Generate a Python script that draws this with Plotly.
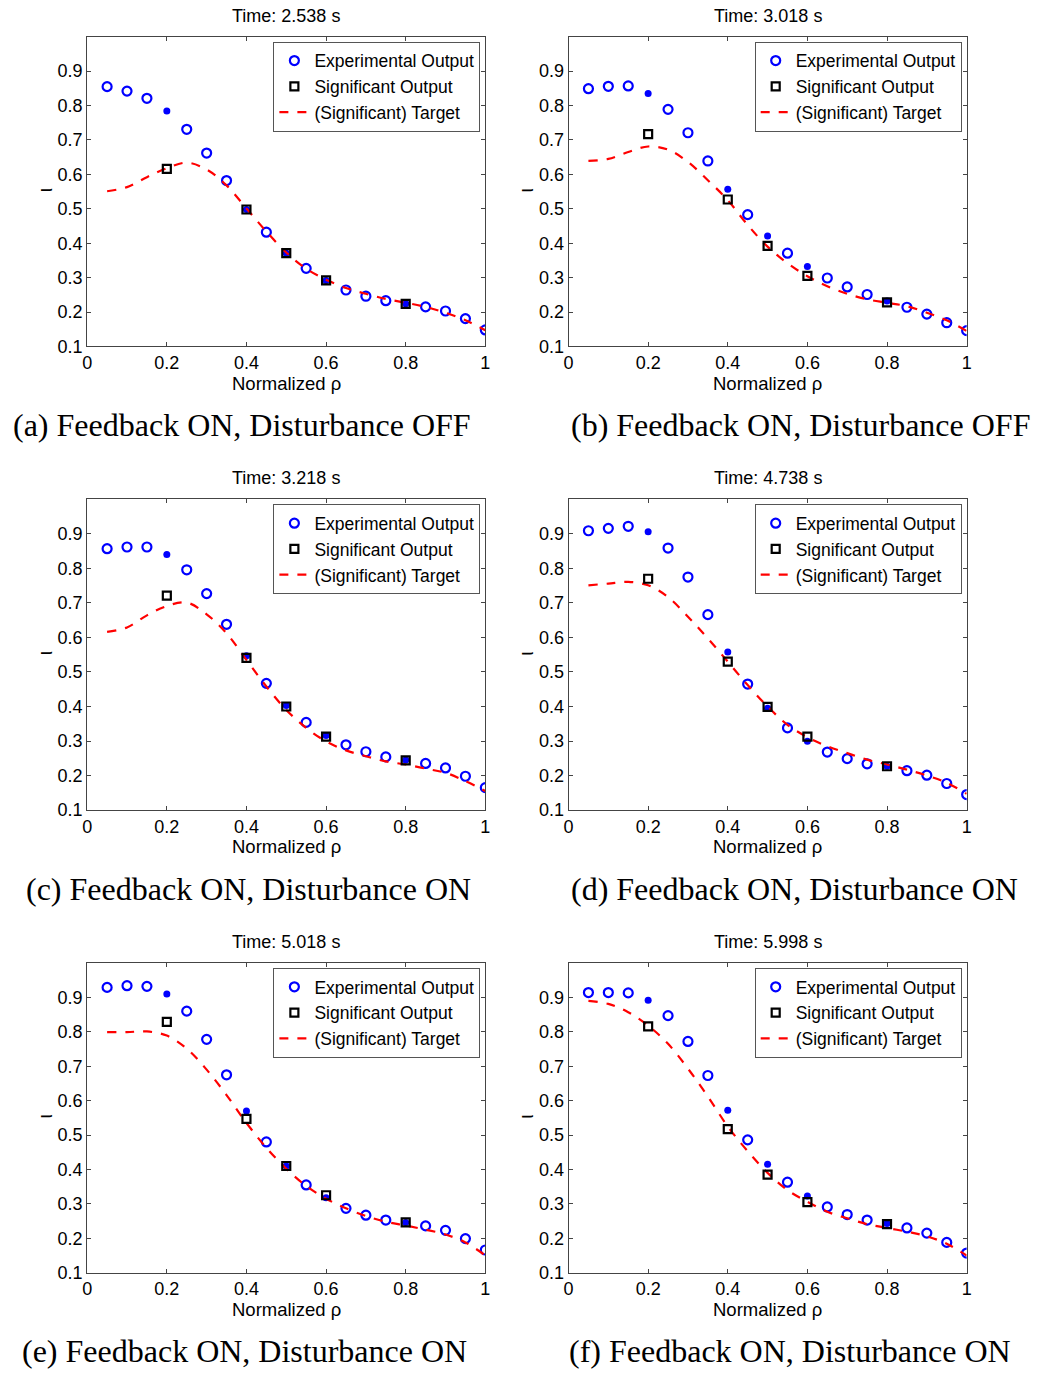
import plotly.graph_objects as go

# ---------------- data ----------------
rho_exp = [0.05, 0.10, 0.15, 0.20, 0.25, 0.30, 0.35, 0.40, 0.45, 0.50,
           0.55, 0.60, 0.65, 0.70, 0.75, 0.80, 0.85, 0.90, 0.95, 1.00]
rho_sig = [0.2, 0.4, 0.5, 0.6, 0.8]

times = ["2.538", "3.018", "3.218", "4.738", "5.018", "5.998"]
captions = ["(a) Feedback ON, Disturbance OFF", "(b) Feedback ON, Disturbance OFF",
            "(c) Feedback ON, Disturbance ON", "(d) Feedback ON, Disturbance ON",
            "(e) Feedback ON, Disturbance ON", "(f) Feedback ON, Disturbance ON"]

exp_a = [0.855, 0.842, 0.821, 0.784, 0.731, 0.662, 0.582, 0.498, 0.432, 0.371,
         0.327, 0.292, 0.264, 0.246, 0.233, 0.224, 0.215, 0.203, 0.181, 0.148]
sig_a = [0.616, 0.498, 0.371, 0.292, 0.224]
tgt_a = [0.551, 0.563, 0.592, 0.618, 0.634, 0.614, 0.568, 0.501, 0.434, 0.373,
         0.326, 0.294, 0.270, 0.253, 0.238, 0.227, 0.215, 0.198, 0.176, 0.147]

exp_b = [0.849, 0.856, 0.857, 0.835, 0.789, 0.721, 0.639, 0.557, 0.483, 0.421,
         0.371, 0.332, 0.299, 0.273, 0.251, 0.232, 0.214, 0.194, 0.169, 0.146]
sig_b = [0.717, 0.527, 0.392, 0.305, 0.228]
tgt_b = [0.639, 0.645, 0.665, 0.681, 0.672, 0.636, 0.583, 0.525, 0.453, 0.390,
         0.342, 0.304, 0.275, 0.253, 0.237, 0.227, 0.217, 0.198, 0.176, 0.145]

exp_c = [0.857, 0.862, 0.862, 0.840, 0.796, 0.727, 0.638, 0.547, 0.467, 0.403,
         0.354, 0.316, 0.289, 0.269, 0.254, 0.245, 0.235, 0.222, 0.198, 0.165]
sig_c = [0.721, 0.541, 0.400, 0.313, 0.244]
tgt_c = [0.616, 0.629, 0.664, 0.691, 0.701, 0.667, 0.612, 0.535, 0.458, 0.390,
         0.338, 0.299, 0.273, 0.256, 0.241, 0.232, 0.220, 0.208, 0.184, 0.155]

exp_d = [0.909, 0.916, 0.922, 0.906, 0.859, 0.775, 0.666, 0.558, 0.465, 0.395,
         0.338, 0.299, 0.268, 0.249, 0.234, 0.227, 0.214, 0.201, 0.177, 0.145]
sig_d = [0.770, 0.530, 0.399, 0.313, 0.227]
tgt_d = [0.751, 0.756, 0.761, 0.751, 0.717, 0.660, 0.597, 0.530, 0.462, 0.400,
         0.347, 0.311, 0.285, 0.265, 0.246, 0.232, 0.217, 0.200, 0.179, 0.147]

exp_e = [0.929, 0.934, 0.932, 0.910, 0.860, 0.778, 0.675, 0.570, 0.480, 0.410,
         0.355, 0.318, 0.287, 0.267, 0.253, 0.246, 0.236, 0.223, 0.199, 0.166]
sig_e = [0.829, 0.547, 0.410, 0.325, 0.246]
tgt_e = [0.799, 0.799, 0.801, 0.789, 0.751, 0.690, 0.616, 0.535, 0.463, 0.402,
         0.352, 0.315, 0.287, 0.265, 0.248, 0.237, 0.225, 0.211, 0.188, 0.150]

exp_f = [0.914, 0.914, 0.913, 0.892, 0.847, 0.772, 0.673, 0.572, 0.486, 0.415,
         0.363, 0.323, 0.291, 0.269, 0.253, 0.243, 0.230, 0.215, 0.188, 0.157]
sig_f = [0.816, 0.517, 0.385, 0.305, 0.241]
tgt_f = [0.890, 0.881, 0.857, 0.818, 0.765, 0.693, 0.612, 0.525, 0.453, 0.390,
         0.340, 0.306, 0.277, 0.258, 0.241, 0.230, 0.219, 0.206, 0.184, 0.150]

x_ticks = [0, 0.2, 0.4, 0.6, 0.8, 1.0]
x_ticktext = ["0", "0.2", "0.4", "0.6", "0.8", "1"]
y_ticks = [0.1, 0.2, 0.3, 0.4, 0.5, 0.6, 0.7, 0.8, 0.9]
y_ticktext = ["0.1", "0.2", "0.3", "0.4", "0.5", "0.6", "0.7", "0.8", "0.9"]

exps = [exp_a, exp_b, exp_c, exp_d, exp_e, exp_f]
sigs = [sig_a, sig_b, sig_c, sig_d, sig_e, sig_f]
tgts = [tgt_a, tgt_b, tgt_c, tgt_d, tgt_e, tgt_f]

# ---------------- layout geometry ----------------
W, H = 1038, 1377
col_px = [(83, 485), (569, 971)]
row_px = [(37, 349), (503, 816), (970, 1282)]
cap_y_px = [428, 895, 1361]
cap_x_px = [239, 803, 246, 797, 242, 793]

SANS = "Liberation Sans, Arial, sans-serif"
SERIF = "Liberation Serif, Times New Roman, serif"

fig = go.Figure()
annotations = []
layout_upd = {}

for i in range(6):
    r, c = divmod(i, 2)
    ax = "" if i == 0 else str(i + 1)
    lg = "legend" if i == 0 else f"legend{i + 1}"
    x0, x1 = col_px[c]
    yt, yb = row_px[r]
    xdom = [x0 / W, x1 / W]
    ydom = [1 - yb / H, 1 - yt / H]

    exp = exps[i]
    open_x = [x for x in rho_exp if round(x, 2) not in rho_sig]
    open_y = [y for x, y in zip(rho_exp, exp) if round(x, 2) not in rho_sig]
    fill_x = [x for x in rho_exp if round(x, 2) in rho_sig]
    fill_y = [y for x, y in zip(rho_exp, exp) if round(x, 2) in rho_sig]

    fig.add_trace(go.Scatter(
        x=open_x, y=open_y, mode="markers", name="Experimental Output",
        marker=dict(symbol="circle-open", size=9, color="#0000ff", line=dict(width=2.2, color="#0000ff")),
        xaxis="x" + ax, yaxis="y" + ax, legend=lg, legendrank=1))
    fig.add_trace(go.Scatter(
        x=fill_x, y=fill_y, mode="markers", showlegend=False,
        marker=dict(symbol="circle", size=7, color="#0000ff"),
        xaxis="x" + ax, yaxis="y" + ax, legend=lg))
    fig.add_trace(go.Scatter(
        x=rho_exp, y=tgts[i], mode="lines", name="(Significant) Target",
        line=dict(color="#ff0000", width=2.2, dash="dash", shape="spline"),
        xaxis="x" + ax, yaxis="y" + ax, legend=lg, legendrank=3))
    fig.add_trace(go.Scatter(
        x=rho_sig, y=sigs[i], mode="markers", name="Significant Output",
        marker=dict(symbol="square-open", size=8, color="#000000", line=dict(width=2.2, color="#000000")),
        xaxis="x" + ax, yaxis="y" + ax, legend=lg, legendrank=2))

    axis_common = dict(showline=True, linecolor="#444444", linewidth=1, mirror="ticks",
                       ticks="inside", ticklen=4, tickcolor="#444444", showgrid=False,
                       zeroline=False, tickfont=dict(family=SANS, size=18, color="#000000"))
    layout_upd["xaxis" + ax] = dict(domain=xdom, range=[0, 1], tickvals=x_ticks, ticktext=x_ticktext,
                                    anchor="y" + ax, ticklabelstandoff=0, **axis_common)
    layout_upd["yaxis" + ax] = dict(domain=ydom, range=[0.1, 1.0], tickvals=y_ticks, ticktext=y_ticktext,
                                    anchor="x" + ax, ticklabelstandoff=0, **axis_common)
    layout_upd[lg] = dict(x=(x1 - 5) / W, xanchor="right", y=1 - (yt + 5) / H, yanchor="top",
                          bgcolor="white", bordercolor="#555555", borderwidth=1,
                          font=dict(family=SANS, size=17.5, color="#000000"),
                          tracegroupgap=0, itemwidth=30)

    cx = (x0 + x1) / 2
    annotations.append(dict(text="Time: " + times[i] + " s", x=cx / W, y=1 - (yt - 21) / H,
                            xref="paper", yref="paper", showarrow=False, xanchor="center", yanchor="middle",
                            font=dict(family=SANS, size=18, color="#000000")))
    annotations.append(dict(text="Normalized \u03c1", x=cx / W, y=1 - (yb + 37) / H,
                            xref="paper", yref="paper", showarrow=False, xanchor="center", yanchor="middle",
                            font=dict(family=SANS, size=18.5, color="#000000")))
    annotations.append(dict(text="\u03b9", x=(x0 - 43) / W, y=1 - ((yt + yb) / 2 - 1) / H,
                            xref="paper", yref="paper", showarrow=False, xanchor="center", yanchor="middle",
                            textangle=-90, font=dict(family=SANS, size=20, color="#000000")))
    annotations.append(dict(text=captions[i], x=cap_x_px[i] / W, y=1 - cap_y_px[r] / H,
                            xref="paper", yref="paper", showarrow=False, xanchor="center", yanchor="middle",
                            font=dict(family=SERIF, size=32, color="#000000")))

fig.update_layout(width=W, height=H, margin=dict(l=0, r=0, t=0, b=0),
                  paper_bgcolor="white", plot_bgcolor="white",
                  annotations=annotations, **layout_upd)

fig.write_html("out.html")
